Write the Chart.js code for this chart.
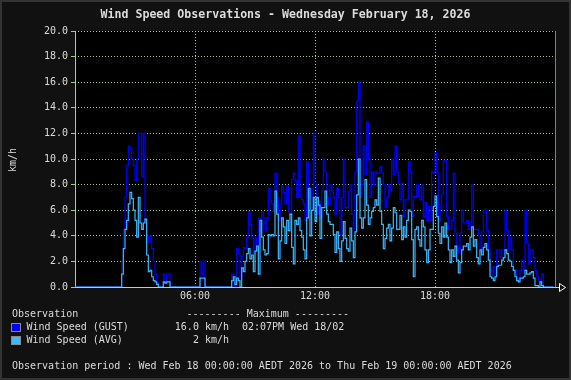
<!DOCTYPE html>
<html>
<head>
<meta charset="utf-8">
<script src="https://cdn.jsdelivr.net/npm/chart.js@4.4.1/dist/chart.umd.min.js"></script>
<style>
html,body{margin:0;padding:0;background:#111;}
canvas{display:block;}
</style>
</head>
<body>
<canvas id="c" width="571" height="380"></canvas>
<script>
// ---------------- data ----------------
const titleText = 'Wind Speed Observations - Wednesday February 18, 2026';
const yAxisTitle = 'km/h';
const intervalMinutes = 5; // one sample every 5 minutes, 288 samples for the day
const xTickValues = [360, 720, 1080];
const xTickLabels = ['06:00', '12:00', '18:00'];
const yMin = 0, yMax = 20, yStep = 2;

// Wind gust (km/h), 12 values per hour, 00:00 .. 23:55
const gust = [
  0,0,0,0,0,0,0,0,0,0,0,0,                       // 00
  0,0,0,0,0,0,0,0,0,0,0,0,                       // 01
  0,0,0,0,2,4.5,7,9.5,11,10.8,10,9.5,            // 02
  8.3,10,12,12,8.6,12,5,4,3.5,4,3,2,             // 03
  1,0.3,0,0,0,1,0.3,1,1,0,0,0,                   // 04
  0,0,0,0,0,0,0,0,0,0,0,0,                       // 05
  0,0,0,2,1,2,0,0,0,0,0,0,                       // 06
  0,0,0,0,0,0,0,0,0,0,1,0.5,                     // 07
  0,3,2.6,0.8,2.4,3.1,3,3.9,5.9,4.9,3.9,2.6,     // 08
  3.9,2.9,5.4,4.4,5.9,5.4,4.4,5.4,7.7,6.8,6.5,5.9, // 09
  8.9,7,5.2,6.5,7.9,7.4,6.5,7.9,5.9,5.7,8.4,8.9, // 10
  8.3,7,11.8,7,6.8,6.5,5.2,9.8,7,7.7,6.2,12,     // 11
  8,5.7,6.7,5.4,7.5,10,9,7,6.4,8,7.5,7,          // 12
  5.7,7.7,7,4.1,7,10,6.2,6.2,7.5,8,5.7,4.6,      // 13
  9,14.5,16,7,8,11,8.8,12.9,10,7,9,8,            // 14
  9,8.9,8.9,9.4,8.9,8,6.2,7,8,7.5,10,8.8,        // 15
  11,9,8.1,6.8,8.1,5.5,6.8,6.8,9.8,9,5.5,7.1,    // 16
  7,8,7.1,6.8,8,5.5,6.6,5.2,6.3,5.2,9,8.9,       // 17
  10.5,8.9,5.1,6.3,7.3,9.9,9.9,5.5,4.5,4.5,5.2,8.9, // 18
  4.2,3.2,2.6,4.2,6,5,5,5.2,4.5,5,8,4.5,         // 19
  4.5,4.5,4,3,4.3,6,6,4.4,2.9,1.3,1,1.6,         // 20
  1,2.9,2.9,2.3,2.9,2.9,6,4.4,2.9,3.9,2.9,1.3,   // 21
  1.3,0.7,0.5,1.3,2.1,1.3,6,3.4,1.8,2.9,2.9,2.3, // 22
  1.3,0.8,0.5,0.4,1,0,0,0,0,0,0,0                // 23
];

// Average wind speed (km/h), 12 values per hour
const avg = [
  0,0,0,0,0,0,0,0,0,0,0,0,                       // 00
  0,0,0,0,0,0,0,0,0,0,0,0,                       // 01
  0,0,0,0,1,3,4.5,5.2,6.5,7.4,6.9,6,             // 02
  5.2,3.9,7,5,4.5,5,5.3,2.5,1.2,1.3,0.8,0.5,     // 03
  0.4,0.2,0,0,0,0.4,0.3,0.4,0.4,0,0,0,           // 04
  0,0,0,0,0,0,0,0,0,0,0,0,                       // 05
  0,0,0,0.7,0.7,0.7,0,0,0,0,0,0,                 // 06
  0,0,0,0,0,0,0,0,0,0,0.5,0.8,                   // 07
  0.2,0.7,0.5,0,1.5,1.2,2,2.6,3,2.2,2.5,1.2,     // 08
  2.8,3.2,1,5.2,3.9,2.9,2.5,2.6,4.1,4,4.1,4,     // 09
  7.5,5.7,2.2,3.6,5.4,4.7,3.4,5.2,4.4,5.7,3.1,1.8, // 10
  5.2,4.9,5.4,4.4,3.9,2.9,2.2,5.4,7.7,4,6,7,     // 11
  5.1,7,6.4,3.8,6.2,6.2,7.5,5.7,5.1,4.9,4.9,4.1, // 12
  2.7,4.3,3,2,3.6,5.1,3.8,3,2.8,4.6,3.6,2.3,     // 13
  4.3,7.2,10,5.4,4.6,5.4,8.4,6.4,4.9,5.4,5.9,6.2, // 14
  6.8,6.4,8.5,5.9,4.9,3,3.8,4.6,4.9,3.6,4.6,6.2, // 15
  5.8,4.5,4.5,5.6,3.7,4.7,3.9,5.2,6,5.9,3.7,0.8, // 16
  4.5,4.7,3.7,3.2,5.2,4.7,2.9,1.9,2.9,4.5,4.5,6.3, // 17
  7.1,5.5,4.2,3.4,4.7,3.9,5,3.9,2.9,1.9,2.9,2.4, // 18
  3.2,2.1,1.1,1.9,2.9,3.2,3.2,3.4,2.9,3.9,4.7,3.2, // 19
  3.7,2.3,1.8,2.9,2.5,3.1,3.4,2.9,2.1,0.8,0.7,0.5, // 20
  0.8,1.6,1.7,1.7,2.1,2.3,2.9,2.6,2.1,2,1.6,1.3, // 21
  0.8,0.5,0.4,0.7,0.7,0.8,1.3,1,1,1.1,1.2,0.7,   // 22
  0.1,0.1,0,0.4,0.1,0,0,0,0,0,0,0                // 23
];

const seriesNames = ['Wind Speed (GUST)', 'Wind Speed (AVG)'];
const seriesColors = ['#0000ff', '#3cb8ff'];
const maxValues = ['16.0 km/h', '2 km/h'];
const maxTimes = ['02:07PM Wed 18/02', ''];
const legendHeader = 'Observation';
const maxHeader = '--------- Maximum ---------';
const periodText = 'Observation period : Wed Feb 18 00:00:00 AEDT 2026 to Thu Feb 19 00:00:00 AEDT 2026';

// ---------------- drawing ----------------
const MONO = '"DejaVu Sans Mono", "Liberation Mono", monospace';
const TEXT = '#dcdcdc';
const GRID = '#9ccf88';

function toPoints(arr) {
  return arr.map((v, i) => ({ x: i * intervalMinutes, y: v }));
}

const decorations = {
  id: 'decorations',
  beforeDraw(chart) {
    const ctx = chart.ctx;
    ctx.save();
    ctx.fillStyle = '#111111';
    ctx.fillRect(0, 0, chart.width, chart.height);
    const a = chart.chartArea;
    ctx.fillStyle = '#000000';
    ctx.fillRect(a.left, a.top, a.right - a.left, a.bottom - a.top);
    ctx.restore();
  },
  beforeDatasetsDraw(chart) {
    const ctx = chart.ctx;
    const a = chart.chartArea;
    const xs = chart.scales.x, ys = chart.scales.y;
    ctx.save();
    ctx.lineWidth = 1;
    ctx.strokeStyle = GRID;
    ctx.setLineDash([1, 2]);
    for (let v = yMin + yStep; v <= yMax; v += yStep) {
      const y = Math.floor(ys.getPixelForValue(v)) + 0.5;
      ctx.beginPath();
      ctx.moveTo(a.left, y);
      ctx.lineTo(a.right, y);
      ctx.stroke();
    }
    xTickValues.forEach(v => {
      const x = Math.floor(xs.getPixelForValue(v)) + 0.5;
      ctx.beginPath();
      ctx.moveTo(x, a.top);
      ctx.lineTo(x, a.bottom);
      ctx.stroke();
    });
    ctx.setLineDash([]);
    for (let v = yMin; v <= yMax; v += yStep) {
      const y = Math.floor(ys.getPixelForValue(v)) + 0.5;
      ctx.beginPath();
      ctx.moveTo(a.left - 4, y);
      ctx.lineTo(a.left, y);
      ctx.stroke();
    }
    const lx = Math.floor(a.left) + 0.5;
    ctx.strokeStyle = '#a6d68a';
    ctx.beginPath();
    ctx.moveTo(lx, a.top);
    ctx.lineTo(lx, a.bottom + 1);
    ctx.stroke();
    const rx = Math.floor(a.right) + 0.5;
    ctx.strokeStyle = '#8c8c2a';
    ctx.beginPath();
    ctx.moveTo(rx, a.top);
    ctx.lineTo(rx, a.bottom);
    ctx.stroke();
    const by = Math.floor(ys.getPixelForValue(yMin)) + 0.5;
    ctx.strokeStyle = '#c8c8c8';
    ctx.beginPath();
    ctx.moveTo(a.left, by);
    ctx.lineTo(a.right + 4, by);
    ctx.stroke();
    ctx.restore();
  },
  afterDraw(chart) {
    const ctx = chart.ctx;
    const a = chart.chartArea;
    const ys = chart.scales.y;
    ctx.save();
    const by = Math.floor(ys.getPixelForValue(yMin)) + 0.5;
    ctx.strokeStyle = '#ffffff';
    ctx.lineWidth = 1;
    ctx.beginPath();
    ctx.moveTo(a.right + 4.5, by - 4);
    ctx.lineTo(a.right + 10.5, by);
    ctx.lineTo(a.right + 4.5, by + 4);
    ctx.closePath();
    ctx.stroke();

    ctx.fillStyle = TEXT;
    ctx.textBaseline = 'middle';
    ctx.textAlign = 'center';
    ctx.font = 'bold 11.6px ' + MONO;
    ctx.fillText(titleText, chart.width / 2, 15);

    ctx.font = '10px ' + MONO;
    ctx.save();
    ctx.translate(13, 160);
    ctx.rotate(-Math.PI / 2);
    ctx.textAlign = 'center';
    ctx.fillText(yAxisTitle, 0, 0);
    ctx.restore();

    ctx.textAlign = 'left';
    ctx.fillText(legendHeader, 12, 314);
    ctx.fillText(maxHeader, 186.5, 314);
    const rows = [327, 340];
    seriesNames.forEach((name, k) => {
      const y = rows[k];
      ctx.fillStyle = seriesColors[k];
      ctx.fillRect(12, y - 3, 9, 8);
      ctx.strokeStyle = '#8a8a8a';
      ctx.strokeRect(11.5, y - 3.5, 9, 8);
      ctx.fillStyle = TEXT;
      ctx.textAlign = 'left';
      ctx.fillText(name, 26.5, y);
      ctx.textAlign = 'right';
      ctx.fillText(maxValues[k], 229, y);
      ctx.textAlign = 'left';
      if (maxTimes[k]) ctx.fillText(maxTimes[k], 242, y);
    });
    ctx.fillText(periodText, 12, 366);

    ctx.strokeStyle = '#333333';
    ctx.lineWidth = 2;
    ctx.strokeRect(1, 1, chart.width - 2, chart.height - 2);
    ctx.restore();
  }
};

new Chart(document.getElementById('c'), {
  type: 'line',
  data: {
    datasets: [
      {
        label: seriesNames[1],
        data: toPoints(avg),
        borderColor: seriesColors[1],
        borderWidth: 1.2,
        pointRadius: 0,
        stepped: true,
        fill: false
      },
      {
        label: seriesNames[0],
        data: toPoints(gust),
        borderColor: seriesColors[0],
        borderWidth: 1.2,
        pointRadius: 0,
        stepped: true,
        fill: false
      }
    ]
  },
  options: {
    responsive: false,
    animation: false,
    devicePixelRatio: 1,
    layout: { padding: { top: 31, right: 16, left: 0, bottom: 0 } },
    plugins: {
      legend: { display: false },
      title: { display: false },
      tooltip: { enabled: false }
    },
    scales: {
      x: {
        type: 'linear',
        min: 0,
        max: 1440,
        afterBuildTicks: s => { s.ticks = xTickValues.map(v => ({ value: v })); },
        afterFit: s => { s.height = 93; },
        ticks: {
          autoSkip: false,
          maxRotation: 0,
          padding: 3,
          color: TEXT,
          font: { family: MONO, size: 10 },
          callback: v => xTickLabels[xTickValues.indexOf(v)]
        },
        grid: { display: false, drawTicks: false },
        border: { display: false }
      },
      y: {
        min: yMin,
        max: yMax,
        afterFit: s => { s.width = 75; },
        ticks: {
          stepSize: yStep,
          padding: 7,
          color: TEXT,
          font: { family: MONO, size: 10 },
          callback: v => Number(v).toFixed(1)
        },
        grid: { display: false, drawTicks: false },
        border: { display: false }
      }
    }
  },
  plugins: [decorations]
});
</script>
</body>
</html>
